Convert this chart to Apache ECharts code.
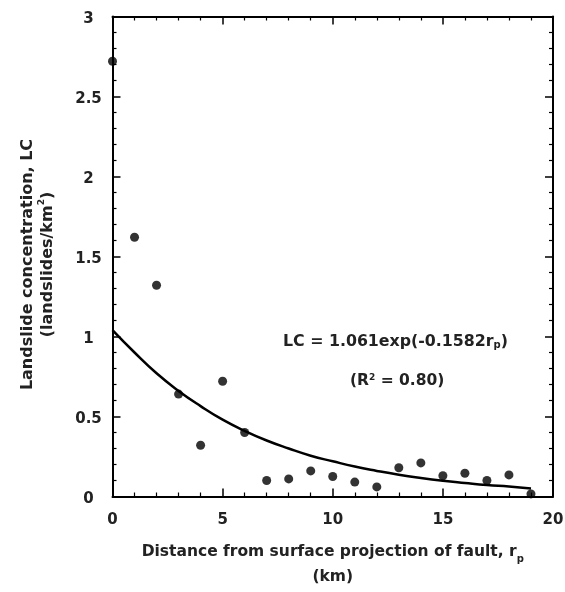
<!DOCTYPE html>
<html>
<head>
<meta charset="utf-8">
<script src="https://cdn.jsdelivr.net/npm/echarts@6/dist/echarts.min.js"></script>
<style>html,body{margin:0;padding:0;background:#fff}#c{width:565px;height:592px}</style>
</head>
<body>
<div id="c"></div>
<script>
// Observed landslide concentration vs distance
var distances = [0,1,2,3,4,5,6,7,8,9,10,11,12,13,14,15,16,17,18,19];
var concentrations = [2.72,1.62,1.32,0.64,0.32,0.72,0.40,0.10,0.11,0.16,0.125,0.09,0.06,0.18,0.21,0.13,0.145,0.10,0.135,0.016];
// Fitted curve
var curveX = [0,1,2,3,4,5,6,7,8,9,10,11,12,13,14,15,16,17,18,19];
var curveY = [1.04,0.90,0.77,0.66,0.565,0.48,0.41,0.35,0.30,0.255,0.22,0.187,0.16,0.136,0.116,0.099,0.085,0.072,0.062,0.05];
var xTicks = [0,5,10,15,20];
var yTicks = [0,0.5,1,1.5,2,2.5,3];

var FONT = 'DejaVu Sans';
var TXT = '#222';
var chart = echarts.init(document.getElementById('c'));

var pts = distances.map(function(d,i){return [d, concentrations[i]];});
var curve = curveX.map(function(d,i){return [d, curveY[i]];});

var axisCommon = {
  axisLine:{show:true, onZero:false, lineStyle:{color:'#000', width:2}},
  axisTick:{show:true, inside:true, length:8, lineStyle:{color:'#000', width:1.5}},
  minorTick:{show:true, splitNumber:5, length:4, lineStyle:{color:'#000', width:1.2}},
  splitLine:{show:false}
};
function mk(extra){ return Object.assign({}, JSON.parse(JSON.stringify(axisCommon)), extra); }

chart.setOption({
  animation:false,
  backgroundColor:'#fff',
  grid:{left:112.5, right:12, top:16.5, bottom:95.5, containLabel:false, outerBoundsMode:'none'},
  xAxis:[
    mk({type:'value', min:0, max:20, interval:5, position:'bottom',
      axisLabel:{show:true, margin:16, fontFamily:FONT, fontSize:15, fontWeight:'bold', color:TXT,
        formatter:function(v){return xTicks.indexOf(v)>=0 ? String(v) : '';}},
      name:'Distance from surface projection of fault, r{sub|p}\n(km)',
      nameLocation:'middle', nameGap:42.5,
      nameTextStyle:{fontFamily:FONT, fontSize:15.5, fontWeight:'bold', color:TXT, lineHeight:25, align:'center',
        rich:{sub:{fontFamily:FONT, fontSize:10, fontWeight:'bold', color:TXT, verticalAlign:'bottom', lineHeight:14}}}
    }),
    mk({type:'value', min:0, max:20, interval:5, position:'top', axisLabel:{show:false}})
  ],
  yAxis:[
    mk({type:'value', min:0, max:3, interval:0.5, position:'left',
      axisLabel:{show:true, margin:24, align:'center', verticalAlign:'top', lineHeight:6, fontFamily:FONT, fontSize:15, fontWeight:'bold', color:TXT,
        formatter:function(v){return yTicks.indexOf(v)>=0 ? String(v) : '';}},
      name:'Landslide concentration, LC\n(landslides/km{sup|2})',
      nameLocation:'middle', nameRotate:90, nameGap:55,
      nameTextStyle:{fontFamily:FONT, fontSize:16, fontWeight:'bold', color:TXT, lineHeight:20, align:'center',
        padding:[0,16,0,0],
        rich:{sup:{fontFamily:FONT, fontSize:9, fontWeight:'bold', color:TXT, verticalAlign:'top', lineHeight:14}}}
    }),
    mk({type:'value', min:0, max:3, interval:0.5, position:'right', axisLabel:{show:false}})
  ],
  series:[
    {type:'line', data:curve, smooth:true, showSymbol:false, symbol:'none',
      lineStyle:{color:'#000', width:2.5}, z:2, silent:true},
    {type:'scatter', data:pts, symbol:'circle', symbolSize:9,
      itemStyle:{color:'#000'}, z:3}
  ],
  graphic:[
    {type:'text', left:283, top:334, z:10,
      style:{text:'LC = 1.061exp(-0.1582r{sub|p})', fontFamily:FONT, fontSize:15.8, fontWeight:'bold', fill:TXT,
        rich:{sub:{fontFamily:FONT, fontSize:10, fontWeight:'bold', fill:TXT, verticalAlign:'bottom', lineHeight:12}}}},
    {type:'text', left:350, top:373, z:10,
      style:{text:'(R{sup|2} = 0.80)', fontFamily:FONT, fontSize:15.5, fontWeight:'bold', fill:TXT,
        rich:{sup:{fontFamily:FONT, fontSize:9, fontWeight:'bold', fill:TXT, verticalAlign:'top', lineHeight:12}}}}
  ]
});
</script>
</body>
</html>
